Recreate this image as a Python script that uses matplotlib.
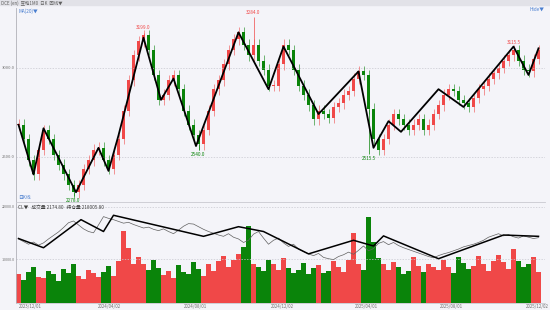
import matplotlib
matplotlib.use("Agg")
import matplotlib.pyplot as plt
import numpy as np

plt.rcParams['font.family'] = ['Noto Sans CJK SC', 'DejaVu Sans']

# ---- data (sampled closes, one sample per ~5 trading days) ----
close = [2680, 2600, 2480, 2400, 2540, 2650, 2600, 2510, 2455, 2400, 2340, 2300,
         2340, 2430, 2480, 2540, 2550, 2480, 2430, 2510, 2600, 2760, 2930, 3070,
         3150, 3185, 3100, 2960, 2820, 2850, 2930, 2960, 2880, 2760, 2680, 2620,
         2570, 2650, 2760, 2880, 2930, 3020, 3100, 3160, 3200, 3130, 3070, 3130,
         3040, 2990, 2900, 2900, 3020, 3130, 3100, 2990, 2900, 2850, 2790, 2710,
         2760, 2740, 2720, 2780, 2800, 2850, 2870, 2940, 2980, 2960, 2770, 2600,
         2540, 2600, 2680, 2740, 2710, 2680, 2650, 2680, 2710, 2650, 2680, 2740,
         2790, 2850, 2880, 2870, 2820, 2800, 2780, 2830, 2880, 2900, 2940, 2970,
         3000, 3040, 3070, 3100, 3040, 2990, 2980, 3050, 3100]
volume = [6500, 5200, 7000, 8200, 6000, 5800, 7400, 6600, 5100, 7800, 6900, 8800,
          6200, 5400, 7600, 6800, 5900, 7000, 8400, 6100, 9500, 16500, 12500, 9000,
          10500, 8800, 7600, 9900, 8000, 6300, 7200, 5800, 8600, 7000, 6500, 9300,
          7800, 6200, 8800, 7400, 9500, 10800, 8200, 9800, 11200, 12800, 17500, 9000,
          8200, 7400, 9900, 8800, 7600, 10300, 8000, 6800, 7500, 9100, 6600, 7900,
          8700, 6900, 7300, 9600, 8300, 7100, 9800, 16000, 8800, 7500, 19500, 13800,
          10200, 8900, 7600, 9400, 8100, 6700, 7400, 10600, 8500, 7100, 9000, 8300,
          7600, 9700, 8200, 6800, 10500, 9200, 7700, 8400, 10800, 8900, 7300, 9500,
          11000, 9300, 7800, 12200, 9600, 8100, 8800, 10400, 7000]
oi = [14600, 14000, 13400, 13900, 13200, 13700, 14600, 15400, 16200, 17200, 18300, 18700,
      17800, 16900, 16300, 16000, 17800, 19700, 19300, 19000, 18600, 18200, 18400, 17900,
      17500, 17100, 17300, 16800, 16500, 16900, 16300, 15800, 16600, 17500, 18100, 18000,
      17400, 16800, 16300, 15900, 15500, 15200, 15800, 15000, 14600, 13800, 14300, 15700,
      16300, 14800, 13400, 14300, 14800, 13700, 12900, 13400, 12300, 11700, 11200, 10800,
      11300, 10400, 10100, 9900, 10600, 11000, 11600, 11100, 12000, 13000, 11900, 12400,
      13600, 14000, 13300, 13800, 13100, 12600, 12200, 11800, 11400, 11000, 10600, 10300,
      10800, 11200, 11500, 11900, 12300, 12800, 13100, 13400, 13800, 14300, 15000, 15400,
      15800, 15300, 15600, 15100, 14800, 15300, 15000, 14700, 14900]

# zigzag vertices (sample index, value)
zz_price_x = [0, 3, 5, 11.5, 16, 18, 20, 25, 28.5, 31, 35.5, 44, 50, 53, 60, 68, 71, 74, 76.5, 84, 89, 99, 102, 104]
zz_price_y = [2680, 2400, 2660, 2300, 2550, 2420, 2620, 3170, 2820, 2940, 2560, 3200, 2880, 3120, 2740, 2980, 2550, 2700, 2640, 2880, 2780, 3120, 2960, 3110]
zz_oi_x = [0, 5, 12.5, 17, 19, 37, 44, 49, 58, 67, 71, 73, 84, 97, 104]
zz_oi_y = [14700, 12600, 19000, 16300, 20000, 15200, 17400, 16300, 11200, 14300, 13000, 15300, 10100, 15500, 15200]

tick_pos = [0, 15.8, 33, 50.4, 67.2, 84.2, 101.4]
tick_lab = ['2023/12/01', '2024/04/02', '2024/08/01', '2024/12/02', '2025/04/01', '2025/08/01', '2025/12/02']

# labelled extremes (sample index, value, side)
mark_x = [25, 47, 36, 11, 70, 99]
mark_v = [3199.0, 3284.0, 2540.0, 2278.0, 2515.5, 3115.5]
mark_side = ['top', 'top', 'bot', 'bot', 'bot', 'top']

RED = '#f04848'
GREEN = '#0a840a'
BG = '#f4f4f9'

fig = plt.figure(figsize=(5.5, 3.1), dpi=100, facecolor=BG)
ax = fig.add_axes([16/550, 1-202/310, 529/550, 194/310], facecolor=BG)
av = fig.add_axes([16/550, 1-303/310, 529/550, 100/310], facecolor=BG, sharex=ax)

n = len(close)
x = np.arange(n)
opens = [close[0]] + close[:-1]
for i in range(n):
    o, c = opens[i], close[i]
    col = RED if c >= o else GREEN
    lo, hi = min(o, c), max(o, c)
    ax.vlines(x[i], lo - 30, hi + 30, color=col, lw=0.4)
    ax.bar(x[i], max(hi - lo, 6), bottom=lo, width=0.75, color=col, lw=0)
    av.bar(x[i], volume[i], width=0.95, color=col, lw=0)

# wicks reaching the labelled extremes
for xx, v, side in zip(mark_x, mark_v, mark_side):
    o, c = opens[xx], close[xx]
    col = RED if c >= o else GREEN
    base = max(o, c) if side == 'top' else min(o, c)
    ax.vlines(xx, min(base, v), max(base, v), color=col, lw=0.5)
    if side == 'top':
        ax.text(xx, v + 12, f'{v:.1f}', color=RED, fontsize=3.4, ha='center', va='bottom')
    else:
        ax.text(xx, v - 12, f'{v:.1f}', color=GREEN, fontsize=3.4, ha='center', va='top')

ax.plot(zz_price_x, zz_price_y, color='black', lw=1.3, zorder=5)
av.plot(x, oi, color='#606060', lw=0.5, zorder=4)
av.plot(zz_oi_x, zz_oi_y, color='black', lw=1.1, zorder=5)

ax.set_ylim(2245, 3337)
ax.set_xlim(-0.5, 105.3)
av.set_ylim(0, 22800)

for a in (ax, av):
    for s in ('top', 'right'):
        a.spines[s].set_visible(False)
    a.spines['left'].set_color('#b0b0b8')
    a.spines['left'].set_linewidth(0.6)
    a.spines['bottom'].set_color('#c8c8d0')
    a.spines['bottom'].set_linewidth(0.6)
    a.tick_params(length=0, labelsize=3.0, colors='#707070', pad=1.0)

ax.set_yticks([2500, 3000])
ax.set_yticklabels(['2500.0', '3000.0'])
ax.grid(axis='y', color='#c8c8d0', lw=0.5, ls=(0, (2, 2)))
ax.tick_params(axis='x', labelbottom=False)

av.set_yticks([10000, 22000])
av.set_yticklabels(['10000.0', '22000.0'], fontsize=2.7)
av.grid(axis='y', color='#c8c8d0', lw=0.5, ls=(0, (2, 2)))
av.set_xticks(tick_pos)
av.set_xticklabels(tick_lab, ha='left', fontsize=3.2)

ax.text(0.004, 0.995, 'MA(20)▼', transform=ax.transAxes, color='#4a7fd0', fontsize=3.4, va='top')
ax.text(0.004, 0.01, '日K线', transform=ax.transAxes, color='#4a7fd0', fontsize=3.4, va='bottom')
fig.text(544/550, 1-7/310, 'Hide▼', color='#4a7fd0', fontsize=3.4, ha='right', va='top')
av.text(0.004, 0.985, 'CL▼   成交量 2174.80   持仓量 218005.80', transform=av.transAxes,
        color='#404040', fontsize=3.4, va='top')

# header bar
fig.patches.append(plt.Rectangle((0, 1-5/310), 1, 5/310, transform=fig.transFigure,
                                 color='#e2e2e8', zorder=0))
fig.text(0.002, 1-0.5/310, 'DCE (en)  豆粕1M0  日K  回线▼', color='#606060', fontsize=3.2, va='top')

fig.savefig('out.png', dpi=100, facecolor=BG)
